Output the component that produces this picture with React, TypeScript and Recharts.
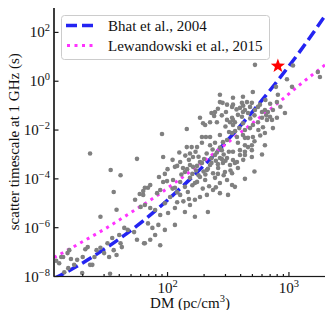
import React from 'react';
import { ComposedChart, Scatter, Line, XAxis, YAxis, Legend } from 'recharts';

// pulsars: [DM (pc/cm^3), scatter timescale at 1 GHz (s)]
const pulsarPoints: [number, number][] = [
  [23, 1.1e-3], [34, 2.3e-4], [41, 1.4e-4], [56, 6.6e-4], [65, 4.3e-5], [90, 6.9e-3], [144, 1.1e-2],
  [36, 2.9e-5], [38, 5.4e-6], [54, 1.4e-5], [59, 2.4e-5], [63, 3.2e-5], [28, 2.8e-6], [60, 7.1e-6],
  [44, 9.8e-7], [47, 8.1e-7], [53, 6.6e-7], [56, 3.2e-7], [64, 2.3e-7], [40, 5e-7], [32, 2.3e-7],
  [35, 3.8e-7], [41, 2.3e-7], [42, 1.6e-7], [36, 1.2e-7], [38, 7.6e-8], [33, 6.3e-8], [28, 1.5e-7],
  [26, 1.2e-7], [25, 6.3e-8], [23, 3e-8], [24, 3e-8], [30, 9.1e-8], [22, 1.6e-7], [21, 1.3e-7],
  [20, 6.3e-8], [18, 4.8e-8], [17, 3e-8], [16, 5.2e-8], [15, 9.1e-8], [13.3, 6.3e-8], [13.8, 6.3e-8],
  [12.8, 3.5e-8], [15.2, 2.2e-8], [14.1, 1.5e-8], [19.8, 1.4e-8], [33.6, 1.3e-8], [15.5, 1.2e-7],
  [12.1, 4.4e-8],
  [270, 0.28], [270, 0.14], [284, 0.13], [309, 0.11], [246, 0.055], [242, 0.038], [303, 0.055],
  [185, 0.032], [204, 0.016], [196, 0.019], [224, 0.021], [255, 0.021], [309, 0.026], [327, 0.021],
  [346, 0.026], [192, 5.2e-3], [207, 5.2e-3], [224, 5.2e-3], [270, 6.3e-3], [321, 8.3e-3],
  [144, 2.0e-3], [158, 2.0e-3], [175, 2.0e-3], [192, 3.0e-3], [224, 2.4e-3], [246, 3.0e-3],
  [286, 3.2e-3], [309, 3.9e-3], [270, 1.9e-3],
  [525, 4.7], [1080, 4.4], [963, 1.2], [782, 0.59], [504, 0.36], [1060, 0.59], [346, 0.21],
  [418, 0.23], [451, 0.14], [410, 0.13], [495, 0.13], [577, 0.11], [811, 0.28], [796, 0.14],
  [1730, 2.4], [1800, 1.5], [346, 0.11],
  [340, 0.089], [395, 0.081], [434, 0.066], [460, 0.05], [380, 0.042], [418, 0.055], [478, 0.089],
  [525, 0.066], [556, 0.089], [600, 0.055], [634, 0.066], [671, 0.055], [698, 0.035], [738, 0.066],
  [796, 0.032], [927, 0.05], [340, 0.032], [359, 0.021], [346, 0.016], [418, 0.019], [434, 0.01],
  [478, 0.012], [505, 0.016], [556, 0.021], [600, 0.032], [611, 0.013], [659, 0.026], [634, 7.6e-3],
  [738, 0.012], [725, 0.026], [340, 7.6e-3], [373, 5.2e-3], [418, 6.3e-3], [460, 4.8e-3],
  [505, 5.2e-3], [434, 4.8e-3], [380, 3.0e-3], [434, 2.4e-3], [495, 2.4e-3], [634, 2.4e-3],
  [346, 1.3e-3], [395, 1.5e-3], [434, 1.3e-3], [495, 1.5e-3], [395, 9.5e-4], [434, 9.5e-4],
  [495, 7.9e-4], [346, 5.9e-4], [359, 4.5e-4], [373, 4.9e-4], [340, 1.7e-4], [434, 1.0e-4],
  [359, 4.7e-5],
  [92, 7.9e-4], [153, 1.1e-3], [162, 7.9e-4], [246, 9.5e-4], [270, 7.2e-4], [309, 7.2e-4],
  [127, 4.9e-4], [115, 3.1e-4], [120, 3.4e-4], [134, 2.8e-4], [139, 1.9e-4], [153, 3.7e-4],
  [162, 3.1e-4], [175, 3.4e-4], [185, 4.9e-4], [192, 4.5e-4], [286, 4.5e-4], [327, 3.7e-4],
  [211, 2.3e-4], [237, 1.7e-4], [261, 2.8e-4], [297, 1.9e-4], [224, 3.7e-4], [111, 9e-5],
  [99, 8.1e-5], [92, 7.4e-5], [127, 7.4e-5], [153, 1.1e-4], [168, 6.8e-5], [185, 1.2e-4],
  [204, 9e-5], [246, 1.1e-4], [270, 6.8e-5], [309, 9e-5], [340, 5.6e-5], [139, 4.7e-5],
  [115, 4.3e-5], [72, 5.6e-5], [69, 4.3e-5], [63, 2.2e-5], [82, 2.6e-5], [87, 3.5e-5],
  [105, 1.8e-5], [127, 2.2e-5], [147, 2.9e-5], [168, 1.4e-5], [185, 1.8e-5], [211, 2.2e-5],
  [237, 3.5e-5], [270, 2.6e-5], [315, 2.2e-5], [95, 1.0e-5], [120, 1.1e-5], [153, 8.5e-6],
  [79, 5.3e-6], [87, 3.3e-6], [101, 4.0e-6], [115, 6.4e-6], [139, 4.4e-6], [168, 2.8e-6],
  [215, 4.4e-6], [72, 6.4e-6], [65, 8.5e-6], [69, 1.5e-6], [75, 9.8e-7], [84, 1.3e-6],
  [95, 8.1e-7], [115, 1.3e-6], [79, 5e-7], [72, 3.2e-7], [65, 2.3e-7], [87, 1.9e-7],
  [130, 1.5e-4], [145, 2.5e-4], [160, 1.6e-4], [172, 2.2e-4], [180, 1.4e-4], [198, 2.0e-4],
  [205, 1.5e-4], [215, 2.6e-4], [230, 4.5e-4], [250, 5.5e-4], [260, 4.0e-4], [280, 6.5e-4],
  [290, 1.0e-3], [300, 5.5e-4], [320, 1.3e-3], [280, 1.5e-3], [255, 1.2e-3], [235, 1.6e-3],
  [210, 1.1e-3], [230, 7.0e-4], [200, 6.5e-4], [180, 8.0e-4], [170, 1.3e-3], [150, 6.0e-4],
  [140, 9.0e-4], [125, 1.2e-3], [110, 6.0e-4], [100, 2.5e-4], [95, 1.6e-4], [85, 1.2e-4],
  [110, 4.0e-5], [120, 2.8e-5], [135, 1.2e-5], [150, 1.5e-5], [160, 5.5e-5], [175, 7.5e-5],
  [195, 4.0e-5], [220, 5.0e-5], [250, 4.5e-5], [290, 1.4e-4], [260, 1.6e-4], [330, 2.2e-4],
  [380, 2.8e-4], [420, 6.0e-4], [460, 2.0e-3], [520, 3.5e-3], [560, 1.0e-2], [580, 6.0e-3],
  [520, 0.04], [480, 0.03], [410, 0.035], [390, 0.012], [360, 0.009], [300, 0.014],
  [280, 0.04], [260, 0.075], [230, 0.05], [370, 0.07], [420, 0.1], [640, 0.17], [700, 0.12],
  [650, 0.04], [850, 0.09], [520, 2.0e-4], [600, 1.0e-3],
];

// relation curves
const curveDm = [11.6, 15, 20, 30, 50, 80, 120, 200, 300, 500, 800, 1200, 2020];
const bhatTau = [8.3e-9, 1.6e-8, 3.6e-8, 1.3e-7, 7.8e-7, 5.1e-6, 3.1e-5, 3.6e-4, 3.1e-3, 0.056, 1.0, 14, 550];
const lewandowskiTau = [6.0e-8, 1.2e-7, 2.7e-7, 8.5e-7, 4.2e-6, 1.9e-5, 8.1e-5, 5.4e-4, 2.6e-3, 0.019, 0.12, 0.65, 5.0];

const starDm = [811];
const starTau = [4.2];

const seriesNames = ['Bhat et al., 2004', 'Lewandowski et al., 2015'];
const xMajorTicks = [100, 1000];
const xMinorTicks = [20, 30, 40, 50, 60, 70, 80, 90, 200, 300, 400, 500, 600, 700, 800, 900];
const yTicks = [1e-8, 1e-6, 1e-4, 1e-2, 1, 100];
const xDomain = [11.6, 2020];
const yDomain = [1e-8, 1100];

// layout
const W = 333;
const H = 318;
const PLOT = { top: 7, right: 7, left: 54, bottom: 41.5 };

const FONT = 'Liberation Serif, DejaVu Serif, serif';
const BLUE = '#2424f2';
const MAGENTA = '#ff33ff';
const INK = '#1a1a1a';

const points = pulsarPoints.map(([dm, tau]) => ({ dm, tau }));
const bhat = curveDm.map((dm, i) => ({ dm, tau: bhatTau[i] }));
const lew = curveDm.map((dm, i) => ({ dm, tau: lewandowskiTau[i] }));
const star = starDm.map((dm, i) => ({ dm, tau: starTau[i] }));

const expLabel = (v: number) => {
  const e = Math.round(Math.log10(v));
  return e < 0 ? `\u2212${-e}` : `${e}`;
};

const XTick = (props: any) => {
  const { x, y, payload } = props;
  const major = xMajorTicks.includes(payload.value);
  return (
    <g>
      <line x1={x} x2={x} y1={y} y2={y - (major ? 4.5 : 2.5)} stroke={INK} strokeWidth={1.2} />
      {major && (
        <text x={x} y={y + 16} textAnchor="middle" style={{ fontFamily: FONT }} fontSize={15} fill="#111">
          10<tspan dy={-6} fontSize={10.5}>{expLabel(payload.value)}</tspan>
        </text>
      )}
    </g>
  );
};

const YTick = (props: any) => {
  const { x, y, payload } = props;
  return (
    <g>
      <line x1={x} x2={x + 4.5} y1={y} y2={y} stroke={INK} strokeWidth={1.2} />
      <text x={x - 4} y={y + 5} textAnchor="end" style={{ fontFamily: FONT }} fontSize={15} fill="#111">
        10<tspan dy={-6} fontSize={10.5}>{expLabel(payload.value)}</tspan>
      </text>
    </g>
  );
};

const XLabel = (props: any) => {
  const { viewBox } = props;
  return (
    <text x={viewBox.x + viewBox.width / 2} y={viewBox.y + 31} textAnchor="middle" style={{ fontFamily: FONT }} fontSize={15} fill="#111">
      DM (pc/cm<tspan dy={-6} fontSize={10.5}>3</tspan><tspan dy={6}>)</tspan>
    </text>
  );
};

const YLabel = (props: any) => {
  const { viewBox } = props;
  const cx = viewBox.x + 19;
  const cy = viewBox.y + viewBox.height / 2;
  return (
    <text x={cx} y={cy} transform={`rotate(-90 ${cx} ${cy})`} textAnchor="middle" style={{ fontFamily: FONT }} fontSize={15} fill="#111">
      scatter timescale at 1 GHz (s)
    </text>
  );
};

const Dot = (props: any) => <circle cx={props.cx} cy={props.cy} r={2.3} fill="#808080" />;

const Star = (props: any) => {
  const { cx, cy } = props;
  const pts: string[] = [];
  for (let k = 0; k < 10; k++) {
    const r = k % 2 === 0 ? 7.5 : 3.1;
    const a = -Math.PI / 2 + (k * Math.PI) / 5;
    pts.push(`${cx + r * Math.cos(a)},${cy + r * Math.sin(a)}`);
  }
  return <polygon points={pts.join(' ')} fill="#ff0000" />;
};

// legend box plus the axes frame, laid over the plot
const LegendBox = () => {
  const lx = PLOT.left + 7;
  const ly = PLOT.top + 8;
  return (
    <svg width={W} height={H} style={{ display: 'block', pointerEvents: 'none' }}>
      <rect
        x={PLOT.left}
        y={PLOT.top}
        width={W - PLOT.left - PLOT.right}
        height={H - PLOT.top - PLOT.bottom}
        fill="none"
        stroke={INK}
        strokeWidth={1.2}
      />
      <g transform={`translate(${lx},${ly})`}>
        <rect x={0.5} y={0.5} width={208} height={44} rx={3} fill="rgba(255,255,255,0.85)" stroke="#cccccc" />
        <line x1={5} x2={32} y1={10.5} y2={10.5} stroke={BLUE} strokeWidth={3.5} strokeDasharray="11 5" />
        <line x1={6} x2={32} y1={30.5} y2={30.5} stroke={MAGENTA} strokeWidth={3} strokeDasharray="3 4.5" />
        <text x={47} y={15.5} style={{ fontFamily: FONT }} fontSize={15} fill="#111">{seriesNames[0]}</text>
        <text x={47} y={35.5} style={{ fontFamily: FONT }} fontSize={15} fill="#111">{seriesNames[1]}</text>
      </g>
    </svg>
  );
};

export default function App() {
  const frame = { stroke: INK, strokeWidth: 1.2 };
  return (
    <div style={{ margin: -8, width: W, height: H, background: '#fff' }}>
      <ComposedChart width={W} height={H} margin={{ top: PLOT.top, right: PLOT.right, bottom: 0, left: 0 }}>
        <XAxis
          dataKey="dm"
          type="number"
          scale="log"
          domain={xDomain}
          allowDataOverflow
          ticks={[...xMinorTicks, ...xMajorTicks].sort((a, b) => a - b)}
          interval={0}
          tick={<XTick />}
          tickSize={0}
          tickMargin={0}
          axisLine={frame}
          height={PLOT.bottom}
          label={<XLabel />}
        />
        <YAxis
          dataKey="tau"
          type="number"
          scale="log"
          domain={yDomain}
          allowDataOverflow
          ticks={yTicks}
          interval={0}
          tick={<YTick />}
          tickSize={0}
          tickMargin={0}
          axisLine={frame}
          width={PLOT.left}
          label={<YLabel />}
        />
        <Scatter data={points} shape={<Dot />} isAnimationActive={false} legendType="none" />
        <Line data={bhat} dataKey="tau" type="monotone" stroke={BLUE} strokeWidth={3.5} strokeDasharray="11 5" dot={false} activeDot={false} isAnimationActive={false} name={seriesNames[0]} />
        <Line data={lew} dataKey="tau" type="monotone" stroke={MAGENTA} strokeWidth={3} strokeDasharray="3 4.5" dot={false} activeDot={false} isAnimationActive={false} name={seriesNames[1]} />
        <Scatter data={star} shape={<Star />} isAnimationActive={false} legendType="none" />
        <Legend
          layout="vertical"
          align="center"
          verticalAlign="middle"
          wrapperStyle={{ left: 0, top: 0, width: W, height: H, pointerEvents: 'none' }}
          content={<LegendBox />}
        />
      </ComposedChart>
    </div>
  );
}
